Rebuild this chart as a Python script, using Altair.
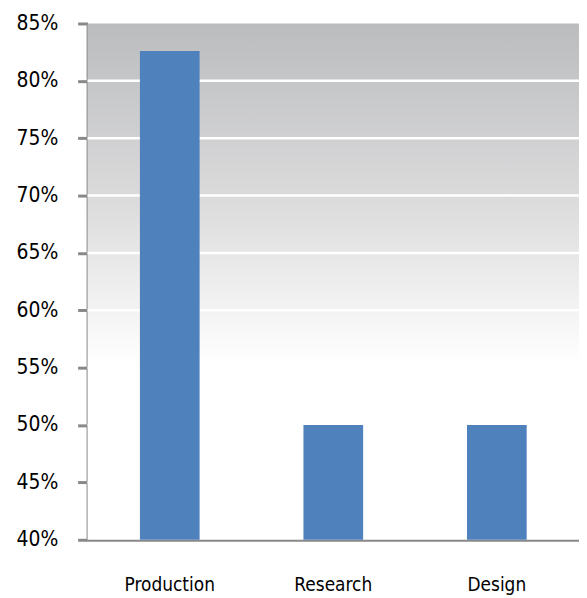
import altair as alt
import pandas as pd

categories = ["Production", "Research", "Design"]
values = [82.6, 50.0, 50.0]
tick_values = [40, 45, 50, 55, 60, 65, 70, 75, 80, 85]
grid_values = [45, 50, 55, 60, 65, 70, 75, 80]

df = pd.DataFrame({"cat": categories, "val": values})
gdf = pd.DataFrame({"val": grid_values})

W, H = 494, 519
FONT = "DejaVu Sans Condensed"

bg = alt.Chart(pd.DataFrame({"a": [0]})).mark_rect(
    fill=alt.Gradient(
        gradient="linear", x1=0, y1=0, x2=0, y2=1,
        stops=[alt.GradientStop(offset=0, color="#bbbcbe"),
               alt.GradientStop(offset=0.35, color="#dcdcdd"),
               alt.GradientStop(offset=0.66, color="#ffffff"),
               alt.GradientStop(offset=1, color="#ffffff")]
    )
).encode(x=alt.value(0), x2=alt.value(W), y=alt.value(0), y2=alt.value(H))

yscale = alt.Scale(domain=[40, 85], nice=False, zero=False)
yaxis = alt.Axis(values=tick_values, labelExpr="datum.value + '%'",
                 labelFont=FONT, labelFontSize=21, labelColor="#000",
                 labelPadding=20, tickSize=10, tickWidth=3, tickColor="#888888",
                 domainColor="#888888", domainWidth=3, grid=False)

grid = alt.Chart(gdf).mark_rule(color="#ffffff", strokeWidth=2.5).encode(
    y=alt.Y("val:Q", scale=yscale, axis=yaxis, title=None),
    x=alt.value(0), x2=alt.value(W),
)

bars = alt.Chart(df).mark_bar(color="#4f81bd", clip=True).encode(
    x=alt.X("cat:N", sort=categories, title=None,
            scale=alt.Scale(paddingInner=0.635, paddingOuter=0.32),
            axis=alt.Axis(labelAngle=0, labelFont=FONT, labelFontSize=19,
                          labelColor="#000", labelPadding=36, ticks=False,
                          domainColor="#888888", domainWidth=3, grid=False)),
    y=alt.Y("val:Q", title=None, scale=yscale, axis=yaxis)
)

chart = alt.layer(bg, grid, bars).properties(
    width=W, height=H,
    autosize=alt.AutoSizeParams(type="none"),
    padding={"left": 80, "top": 14, "right": 0, "bottom": 60},
).configure_view(stroke=None)

chart.save("out.html", embed_options={"renderer": "svg", "actions": False})
